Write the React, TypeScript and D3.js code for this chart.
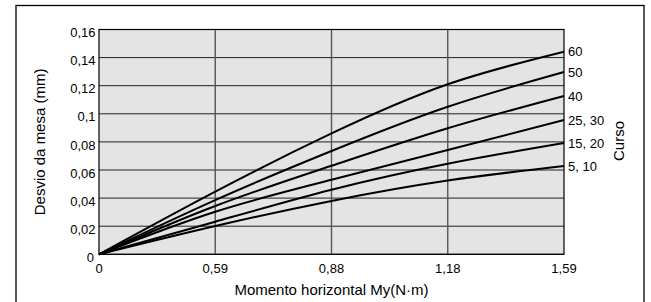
import React, { useRef, useEffect } from 'react';
import * as d3 from 'd3';

// moment values (axis ticks are evenly spaced)
const xTicks = [0, 0.59, 0.88, 1.18, 1.59];
const xLabels = ['0', '0,59', '0,88', '1,18', '1,59'];
const yTicks = [0, 0.02, 0.04, 0.06, 0.08, 0.1, 0.12, 0.14, 0.16];
const yLabels = ['0', '0,02', '0,04', '0,06', '0,08', '0,1', '0,12', '0,14', '0,16'];

const curso = ['60', '50', '40', '25, 30', '15, 20', '5, 10'];
const s60 = [0, 0.0446, 0.086, 0.121, 0.1442];
const s50 = [0, 0.0386, 0.0735, 0.105, 0.1297];
const s40 = [0, 0.0344, 0.063, 0.0897, 0.1127];
const s25 = [0, 0.0303, 0.053, 0.0742, 0.0956];
const s15 = [0, 0.0232, 0.046, 0.0645, 0.0792];
const s5 = [0, 0.0201, 0.038, 0.0525, 0.0628];
const seriesValues = [s60, s50, s40, s25, s15, s5];

const App = () => {
    const svgRef = useRef();

    useEffect(() => {
        const svg = d3.select(svgRef.current);
        svg.selectAll("*").remove();
        const width = 651;
        const height = 302;
        const margin = { top: 29.5, right: 87, bottom: 47.7, left: 99 };
        const font = "'Liberation Sans', Arial, sans-serif";

        svg.attr("viewBox", [0, 0, width, height]);

        // outer frame
        svg.append("rect")
            .attr("x", 16).attr("y", 5.5)
            .attr("width", 628).attr("height", 310)
            .attr("fill", "#fff").attr("stroke", "#000").attr("stroke-width", 1.3);

        const x = d3.scaleLinear()
            .domain(xTicks)
            .range(xTicks.map((d, i) => margin.left + i * (width - margin.right - margin.left) / (xTicks.length - 1)));

        const y = d3.scaleLinear()
            .domain([0, 0.16])
            .range([height - margin.bottom, margin.top]);

        svg.append("rect")
            .attr("x", margin.left).attr("y", margin.top)
            .attr("width", x(1.59) - x(0)).attr("height", y(0) - y(0.16))
            .attr("fill", "#e4e4e4");

        svg.append("g")
            .selectAll("line")
            .data(yTicks)
            .join("line")
            .attr("x1", x(0)).attr("x2", x(1.59))
            .attr("y1", d => y(d)).attr("y2", d => y(d))
            .attr("stroke", "#222").attr("stroke-width", 1);

        svg.append("g")
            .selectAll("line")
            .data(xTicks.slice(1, -1))
            .join("line")
            .attr("x1", d => x(d)).attr("x2", d => x(d))
            .attr("y1", y(0)).attr("y2", y(0.16))
            .attr("stroke", "#555").attr("stroke-width", 1.4);

        svg.append("rect")
            .attr("x", margin.left).attr("y", margin.top)
            .attr("width", x(1.59) - x(0)).attr("height", y(0) - y(0.16))
            .attr("fill", "none").attr("stroke", "#000").attr("stroke-width", 1.2);

        const line = d3.line()
            .x((d, i) => x(xTicks[i]))
            .y(d => y(d))
            .curve(d3.curveNatural);

        svg.append("g")
            .selectAll("path")
            .data(seriesValues)
            .join("path")
            .attr("d", d => line(d))
            .attr("fill", "none")
            .attr("stroke", "#000")
            .attr("stroke-width", 2);

        svg.append("g")
            .selectAll("text")
            .data(seriesValues)
            .join("text")
            .attr("x", x(1.59) + 4)
            .attr("y", d => y(d[d.length - 1]))
            .attr("dy", "0.36em")
            .attr("font-family", font).attr("font-size", 13)
            .text((d, i) => curso[i]);

        svg.append("g")
            .selectAll("text")
            .data(yTicks)
            .join("text")
            .attr("x", d => d === 0 ? 94 : 95.5)
            .attr("y", d => y(d) + 3)
            .attr("dy", "0.36em")
            .attr("text-anchor", "end")
            .attr("font-family", font).attr("font-size", 13)
            .text((d, i) => yLabels[i]);

        svg.append("g")
            .selectAll("text")
            .data(xTicks)
            .join("text")
            .attr("x", d => x(d))
            .attr("y", 273)
            .attr("text-anchor", "middle")
            .attr("font-family", font).attr("font-size", 13)
            .text((d, i) => xLabels[i]);

        svg.append("text")
            .attr("x", (x(0) + x(1.59)) / 2)
            .attr("y", 295)
            .attr("text-anchor", "middle")
            .attr("font-family", font).attr("font-size", 15)
            .text("Momento horizontal My(N·m)");

        svg.append("text")
            .attr("transform", `translate(45,${(y(0) + y(0.16)) / 2}) rotate(-90)`)
            .attr("text-anchor", "middle")
            .attr("font-family", font).attr("font-size", 15)
            .text("Desvio da mesa (mm)");

        svg.append("text")
            .attr("transform", `translate(624,141) rotate(-90)`)
            .attr("text-anchor", "middle")
            .attr("font-family", font).attr("font-size", 15)
            .text("Curso");
    }, []);

    return <svg ref={svgRef} width={651} height={302} style={{ position: 'absolute', left: 0, top: 0 }}></svg>;
};

export default App;
